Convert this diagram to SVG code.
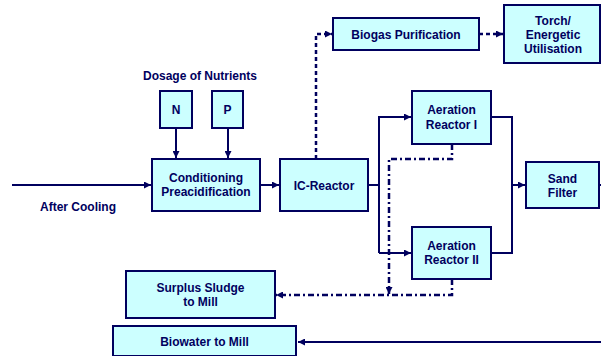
<svg xmlns="http://www.w3.org/2000/svg" width="601" height="356" viewBox="0 0 601 356">
<style>
.box{fill:#ccffff;stroke:#00005e;stroke-width:2}
.t{font-family:"Liberation Sans",Arial,sans-serif;font-weight:bold;font-size:12px;fill:#00005e;text-anchor:middle}
.ln{fill:none;stroke:#00005e;stroke-width:2}
.da{stroke-width:2.5;stroke-dasharray:4 3}
.dd{stroke-width:2.5;stroke-dasharray:6 3 2 3}
</style>
<defs>
<marker id="ar" viewBox="0 0 8 8" refX="8" refY="4" markerWidth="7" markerHeight="7" markerUnits="userSpaceOnUse" orient="auto">
<path d="M0,0 L8,4 L0,8 z" fill="#00005e"/>
</marker>
</defs>
<rect width="601" height="356" fill="#ffffff"/>
<text class="t" x="200" y="80">Dosage of Nutrients</text>
<text class="t" x="78" y="211">After Cooling</text>
<g id="connectors">
<path class="ln" d="M176,128 V158" marker-end="url(#ar)"/>
<path class="ln" d="M228,128 V158" marker-end="url(#ar)"/>
<path class="ln" d="M12,185 H151" marker-end="url(#ar)"/>
<path class="ln" d="M260,185 H279" marker-end="url(#ar)"/>
<path class="ln da" d="M316,159 V34 H332" marker-end="url(#ar)"/>
<path class="ln da" d="M479,34 H503" marker-end="url(#ar)"/>
<path class="ln" d="M368,185 H379"/>
<path class="ln" d="M379,253 V117 H411" marker-end="url(#ar)"/>
<path class="ln" d="M379,253 H411" marker-end="url(#ar)"/>
<path class="ln" d="M491,117 H512 V253 H491"/>
<path class="ln" d="M512,185 H525" marker-end="url(#ar)"/>
<path class="ln" d="M599,185 H601"/>
<path class="ln dd" d="M452,144 V159 H389 V294" marker-end="url(#ar)"/>
<path class="ln dd" d="M452,279 V295 H276" marker-end="url(#ar)"/>
<path class="ln" d="M601,342 H298" marker-end="url(#ar)"/>
</g>
<g id="n"><rect class="box" x="160" y="91" width="32" height="37"/><text class="t" x="176" y="114">N</text></g>
<g id="p"><rect class="box" x="212" y="91" width="31" height="37"/><text class="t" x="227.5" y="114">P</text></g>
<g id="cond"><rect class="box" x="152" y="159" width="108" height="52"/><text class="t" x="206" y="182">Conditioning</text><text class="t" x="206" y="196">Preacidification</text></g>
<g id="ic"><rect class="box" x="280" y="159" width="88" height="52"/><text class="t" x="324" y="189.5">IC-Reactor</text></g>
<g id="biogas"><rect class="box" x="333" y="18" width="146" height="32"/><text class="t" x="406" y="38.5">Biogas Purification</text></g>
<g id="torch"><rect class="box" x="504" y="5" width="96" height="58"/><text class="t" x="553" y="24.5">Torch/</text><text class="t" x="553" y="38.5">Energetic</text><text class="t" x="553" y="52.5">Utilisation</text></g>
<g id="aer1"><rect class="box" x="412" y="91" width="79" height="53"/><text class="t" x="451.5" y="114">Aeration</text><text class="t" x="451.5" y="128.5">Reactor I</text></g>
<g id="aer2"><rect class="box" x="412" y="227" width="79" height="52"/><text class="t" x="451.5" y="250">Aeration</text><text class="t" x="451.5" y="264">Reactor II</text></g>
<g id="sand"><rect class="box" x="526" y="162" width="73" height="46"/><text class="t" x="562.5" y="182.5">Sand</text><text class="t" x="562.5" y="196.5">Filter</text></g>
<g id="surplus"><rect class="box" x="126" y="271" width="149" height="47"/><text class="t" x="200.5" y="291.5">Surplus Sludge</text><text class="t" x="200.5" y="305.5">to Mill</text></g>
<g id="biowater"><rect class="box" x="113" y="326" width="183" height="30"/><text class="t" x="204.5" y="346">Biowater to Mill</text></g>
</svg>
